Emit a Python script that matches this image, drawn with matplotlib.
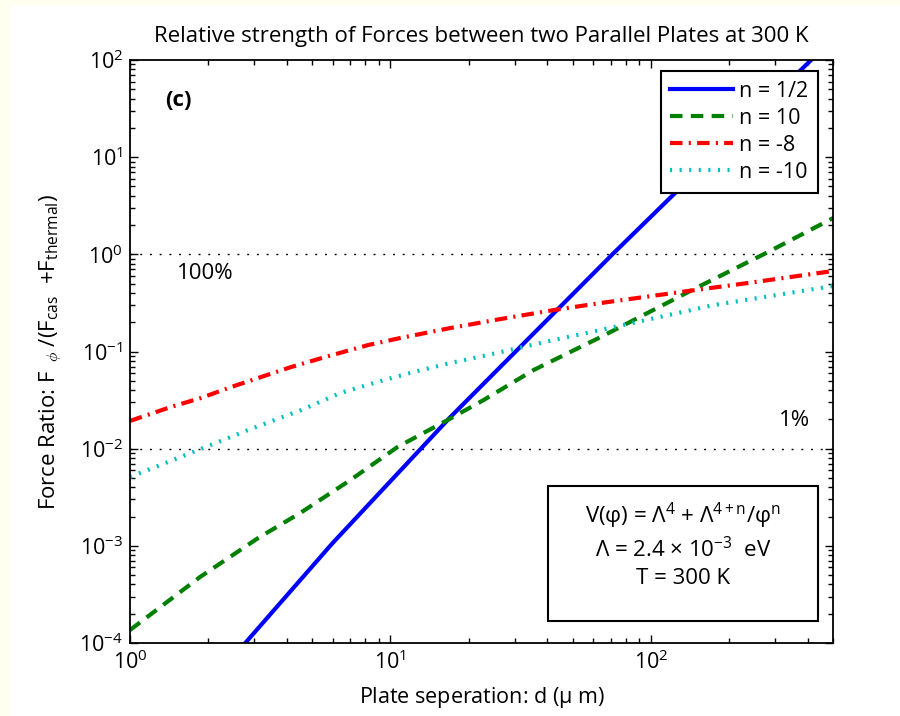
import numpy as np
import matplotlib.pyplot as plt
from matplotlib.patches import Rectangle

plt.rcParams['font.family'] = ['Open Sans', 'DejaVu Sans']
plt.rcParams['mathtext.fontset'] = 'custom'
plt.rcParams['mathtext.rm'] = 'Open Sans'
plt.rcParams['mathtext.it'] = 'Open Sans:italic'
plt.rcParams['mathtext.bf'] = 'Open Sans:bold'

# plate separation (um) and force ratio
d_half = [2.77, 6.0, 17.0, 71.4, 412.0]
f_half = [1e-4, 1.07e-3, 0.0212, 1.01, 100.0]

d_n10 = [1.0, 1.858, 3.107, 4.507, 7.02, 10.64, 16.57, 22.8, 35.5, 64.2, 151.6, 281.8, 501.0]
f_n10 = [1.36e-4, 4.78e-4, 1.205e-3, 2.18e-3, 4.76e-3, 0.0104, 0.0197, 0.0317, 0.0646, 0.141, 0.461, 1.057, 2.366]

d_m8 = [1.0, 1.438, 1.876, 2.446, 3.19, 4.16, 5.62, 8.23, 10.9, 17.0, 26.5, 42.4, 64.2, 130.5, 236.0, 501.0]
f_m8 = [0.0193, 0.0269, 0.0333, 0.0431, 0.0547, 0.0693, 0.0878, 0.1167, 0.1377, 0.1745, 0.216, 0.267, 0.3156, 0.41, 0.507, 0.674]

d_m10 = [1.0, 1.4, 1.91, 2.84, 4.55, 6.42, 8.91, 12.26, 17.0, 23.6, 42.4, 64.2, 174.7, 501.0]
f_m10 = [5.11e-3, 7.3e-3, 0.01016, 0.01556, 0.025, 0.0374, 0.0486, 0.0615, 0.0762, 0.092, 0.1314, 0.1665, 0.301, 0.472]

ref_levels = [1.0, 0.01]

fig = plt.figure(figsize=(9, 7.16), dpi=100, facecolor='white')
# thin yellow strips at top and left, as in the screenshot
fig.add_artist(Rectangle((0, 0), 11/900, 1, transform=fig.transFigure,
                         facecolor='#fffff0', edgecolor='none', zorder=-10))
fig.add_artist(Rectangle((0, 1 - 5/716), 1, 5/716, transform=fig.transFigure,
                         facecolor='#fffff0', edgecolor='none', zorder=-10))

ax = fig.add_axes([130/900, 73/716, 703/900, 583/716])
ax.set_xscale('log')
ax.set_yscale('log')

for lev in ref_levels:
    ax.axhline(lev, color='black', lw=1.0, linestyle=(0, (1.4, 5.6)), zorder=1)

ax.plot(d_half, f_half, color='#0000ff', lw=3, label='n = 1/2')
ax.plot(d_n10, f_n10, color='#008000', lw=3, linestyle=(0, (3, 2)), label='n = 10')
ax.plot(d_m8, f_m8, color='#ff0000', lw=3, linestyle=(0, (3, 1.5, 0.5, 1.5)), label='n = -8')
ax.plot(d_m10, f_m10, color='#00bfbf', lw=3, linestyle=(0, (0.5, 1.8)), label='n = -10')

ax.set_xlim(1, 500)
ax.set_ylim(1e-4, 1e2)

ax.tick_params(which='both', direction='in', top=True, right=True, labelsize=15.5, width=1.0)
ax.tick_params(which='major', length=6, pad=5)
ax.tick_params(which='minor', length=3.5)
for s in ax.spines.values():
    s.set_linewidth(1.3)

ax.set_title('Relative strength of Forces between two Parallel Plates at 300 K', fontsize=16, pad=13)
ax.set_xlabel(r'Plate seperation: d ($\mathrm{\mu}$ m)', fontsize=15.5, labelpad=8)
ax.set_ylabel(r'Force Ratio: F$_{\ \ \phi}$ /(F$_{\mathrm{cas}}$  +F$_{\mathrm{thermal}}$)',
              fontsize=16, labelpad=11)

ax.text(0.05, 0.93, '(c)', transform=ax.transAxes, fontsize=16, fontweight='bold', va='center')
ax.text(0.107, 0.6346, '100%', transform=ax.transAxes, fontsize=16, ha='center', va='center')
ax.text(0.945, 0.382, '1%', transform=ax.transAxes, fontsize=16, ha='center', va='center')

leg = ax.legend(loc='upper right', fontsize=15.5, handlelength=2.9, handletextpad=0.3,
                labelspacing=0.28, borderpad=0.45, fancybox=False, framealpha=1,
                borderaxespad=0, bbox_to_anchor=(0.9787, 0.981))
leg.get_frame().set_edgecolor('black')
leg.get_frame().set_linewidth(1.5)

ax.add_patch(Rectangle((0.5946, 0.0377), 0.3841, 0.2316, transform=ax.transAxes,
                       facecolor='white', edgecolor='black', lw=1.5, zorder=5))
ax.text(0.7866, 0.218, r'V(φ) = Λ$^{4}$ + Λ$^{\mathrm{4+n}}$/φ$^{\mathrm{n}}$', transform=ax.transAxes,
        fontsize=16, ha='center', va='center', zorder=6)
ax.text(0.7866, 0.160, r'Λ = 2.4 × 10$^{-3}$  eV', transform=ax.transAxes,
        fontsize=16, ha='center', va='center', zorder=6)
ax.text(0.7866, 0.110, 'T = 300 K', transform=ax.transAxes,
        fontsize=16, ha='center', va='center', zorder=6)

fig.savefig('out.png', dpi=100, facecolor=fig.get_facecolor())
